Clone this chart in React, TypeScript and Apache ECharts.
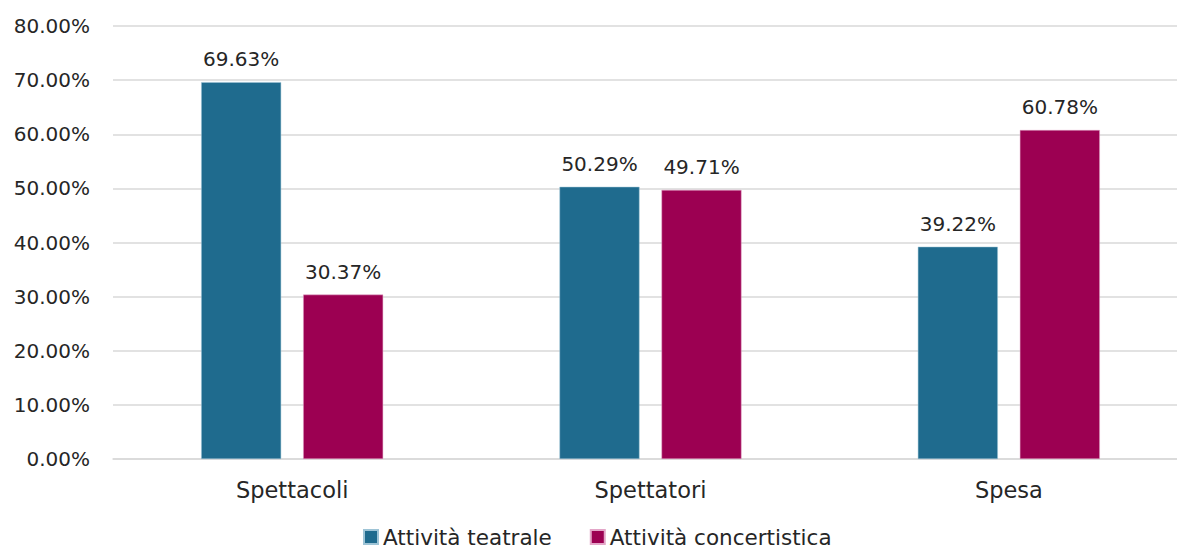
import React, { useEffect, useRef } from "react";
import * as echarts from "echarts";

const categories = ["Spettacoli", "Spettatori", "Spesa"];
const teatrale = [69.63, 50.29, 39.22];
const concertistica = [30.37, 49.71, 60.78];
const seriesNames = ["Attività teatrale", "Attività concertistica"];

const FONT = "DejaVu Sans";
const TEXT = "#262626";

export default function App() {
  const ref = useRef<HTMLDivElement>(null);
  useEffect(() => {
    document.body.style.margin = "0";
    const chart = echarts.init(ref.current!, null, { renderer: "svg" });
    const label = {
      show: true,
      position: "top",
      distance: 13,
      color: TEXT,
      fontFamily: FONT,
      fontSize: 20,
      formatter: (p: any) => p.value.toFixed(2) + "%",
    };
    chart.setOption({
      animation: false,
      textStyle: { fontFamily: FONT },
      grid: { left: 113, right: 0, top: 26, bottom: 93, containLabel: false },
      legend: {
        left: 363,
        top: 526,
        padding: 0,
        itemWidth: 14,
        itemHeight: 14,
        itemGap: 38,
        icon: "rect",
        textStyle: { fontFamily: FONT, fontSize: 21.5, lineHeight: 22, color: TEXT },
        data: seriesNames,
      },
      xAxis: {
        type: "category",
        data: categories,
        axisLine: { show: true, lineStyle: { color: "#d9d9d9", width: 1.5 } },
        axisTick: { show: false },
        axisLabel: { color: TEXT, fontFamily: FONT, fontSize: 22.5, margin: 19 },
      },
      yAxis: {
        type: "value",
        min: 0,
        max: 80,
        interval: 10,
        axisLine: { show: false },
        axisTick: { show: false },
        splitLine: { lineStyle: { color: "#d9d9d9", width: 1.5 } },
        axisLabel: {
          color: TEXT,
          fontFamily: FONT,
          fontSize: 20,
          margin: 23,
          formatter: (v: number) => v.toFixed(2) + "%",
        },
      },
      series: [
        {
          name: seriesNames[0],
          type: "bar",
          data: teatrale,
          barWidth: 80,
          barGap: "27.5%",
          itemStyle: { color: "#1F6B8E", borderColor: "#9ec4d6", borderWidth: 0.5 },
          label,
        },
        {
          name: seriesNames[1],
          type: "bar",
          data: concertistica,
          barWidth: 80,
          barGap: "27.5%",
          itemStyle: { color: "#9C0052", borderColor: "#e3a6c8", borderWidth: 0.5 },
          label,
        },
      ],
    });
    return () => chart.dispose();
  }, []);
  return (
    <div style={{ position: "fixed", left: 0, top: 0, width: 1177, height: 552, overflow: "hidden", background: "#fff" }}>
      <div ref={ref} style={{ width: 1188, height: 552 }} />
    </div>
  );
}
